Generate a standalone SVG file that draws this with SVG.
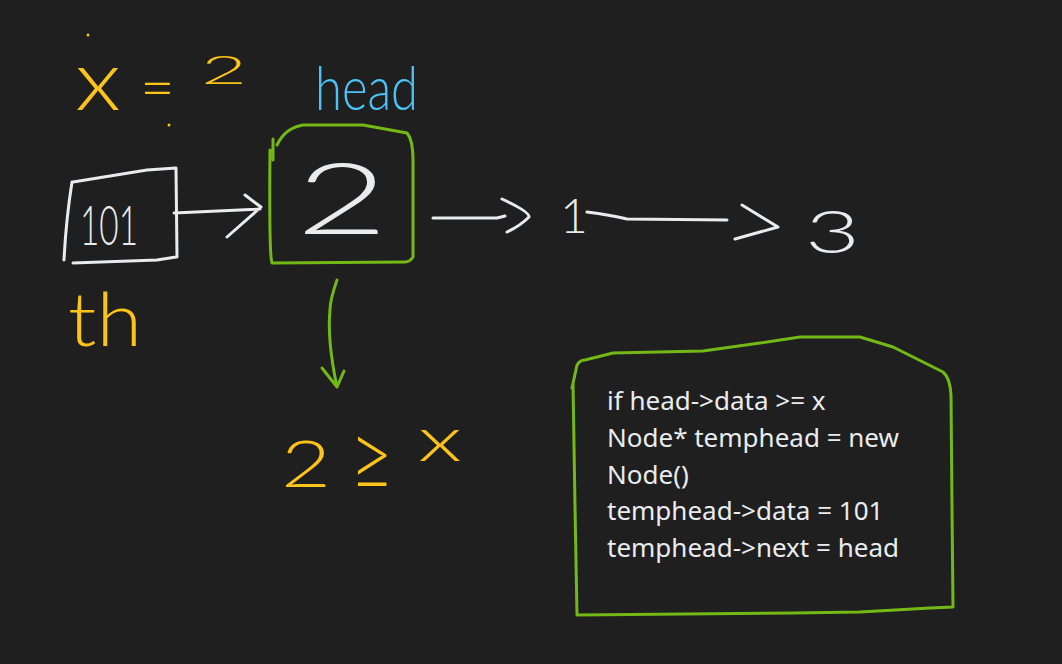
<svg xmlns="http://www.w3.org/2000/svg" width="1062" height="664" viewBox="0 0 1062 664">
<style>
.s{fill:none;stroke-linecap:round;stroke-linejoin:round;stroke-width:3}
.w{stroke:#e9ecef}
.g{stroke:#74b816}
.hw{font-family:Lato,Roboto,"Noto Sans","Liberation Sans",sans-serif;font-weight:300}
.y{fill:#fcc419}
.code{font-family:"Noto Sans","Liberation Sans",sans-serif;font-size:26px;fill:#e9ecef}
</style>
<rect width="1062" height="664" fill="#1f1f1f"/>
<g id="x-eq">
<circle cx="88" cy="35" r="1.5" fill="#fcc419"/>
<circle cx="169" cy="125" r="1.5" fill="#fcc419"/>
<text class="hw y" x="75" y="110" font-size="84" textLength="46" lengthAdjust="spacingAndGlyphs">x</text>
<text class="hw y" x="140" y="108" font-size="60">=</text>
<text class="hw y" x="201" y="84" font-size="40" textLength="46" lengthAdjust="spacingAndGlyphs">2</text>
</g>
<g id="head-label">
<text class="hw" x="315" y="110" font-size="62" fill="#4cc2f5" textLength="103" lengthAdjust="spacingAndGlyphs">head</text>
</g>
<g id="node-101">
<path class="s w" d="M72 182 Q66 220 64 260 M73 182 L147 170 L176 168 L177 257 M73 263 L157 260 L176 257"/>
<text class="hw" x="80" y="245" font-size="56" fill="#e9ecef" textLength="58" lengthAdjust="spacingAndGlyphs">101</text>
</g>
<g id="th-label">
<text class="hw y" x="68" y="346" font-size="74" textLength="74" lengthAdjust="spacingAndGlyphs">th</text>
</g>
<g id="node-2">
<path class="s g" d="M273 139 L273 160 M277 145 Q285 128 303 125 L363 125 L407 133 Q413 140 413 160 L413 257 Q410 262 405 262 L272 263 Q269 255 270 150"/>
<text class="hw" x="296" y="234" font-size="98" fill="#e9ecef" textLength="92" lengthAdjust="spacingAndGlyphs">2</text>
</g>
<g id="node-1">
<text class="hw" x="560" y="233" font-size="48" fill="#e9ecef">1</text>
</g>
<g id="node-3">
<text class="hw" x="805" y="253" font-size="60" fill="#e9ecef" textLength="55" lengthAdjust="spacingAndGlyphs">3</text>
</g>
<g id="compare">
<text class="hw y" x="281" y="487" font-size="66" textLength="50" lengthAdjust="spacingAndGlyphs">2</text>
<text class="hw y" x="350" y="490" font-size="96" textLength="44" lengthAdjust="spacingAndGlyphs">≥</text>
<text class="hw y" x="418" y="461" font-size="62" textLength="44" lengthAdjust="spacingAndGlyphs">x</text>
</g>
<g id="code-box">
<path class="s g" d="M572 388 L577 365 Q580 360 585 360 L613 353 L703 351 L760 343 L800 337 L860 337 L893 347 L943 372 Q950 378 951 395 L952 507 L953 607 L930 608 L860 612 L793 613 L577 615 L575 507 L573 383"/>
<text class="code"><tspan x="607" y="410">if head-&gt;data &gt;= x</tspan><tspan x="607" y="447">Node* temphead = new</tspan><tspan x="607" y="484">Node()</tspan><tspan x="607" y="520">temphead-&gt;data = 101</tspan><tspan x="607" y="557">temphead-&gt;next = head</tspan></text>
</g>
<g id="connectors">
<path class="s w" d="M174 213 L260 209 M245 195 L261 207 L227 237"/>
<path class="s w" d="M433 218 L497 218 L505 216 M502 199 Q530 212 529 217 Q520 226 507 232"/>
<path class="s w" d="M587 212 Q610 215 627 219 L727 220 M742 205 L778 227 L735 239"/>
<path class="s g" d="M337 280 Q330 300 330 310 Q327 340 337 387 M322 368 L337 387 L344 371"/>
</g>
</svg>
